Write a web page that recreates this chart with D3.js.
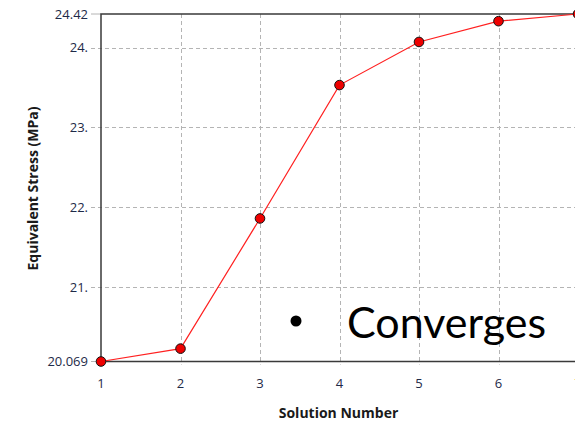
<!DOCTYPE html>
<html>
<head>
<meta charset="utf-8">
<script src="https://cdn.jsdelivr.net/npm/d3@7/dist/d3.min.js"></script>
<style>
  html, body { margin: 0; padding: 0; background: #fff; }
  svg { display: block; }
</style>
</head>
<body>
<svg id="chart" width="575" height="421"></svg>
<script>
// Solution convergence: equivalent stress per solution number
const solutions = [1, 2, 3, 4, 5, 6, 7];
const stress = [20.069, 20.23, 21.86, 23.53, 24.07, 24.33, 24.42];
const yTicks = [24.42, 24, 23, 22, 21, 20.069];
const yTickLabels = ["24.42", "24.", "23.", "22.", "21.", "20.069"];
const xTicks = [1, 2, 3, 4, 5, 6, 7];
const xTickLabels = ["1", "2", "3", "4", "5", "6", "7"];

const svg = d3.select("#chart");
const plotLeft = 101, plotTop = 14, plotBottom = 361.5, plotRight = 578;

const x = d3.scaleLinear().domain([1, 7]).range([plotLeft, plotRight]);
const y = d3.scaleLinear().domain([20.069, 24.42]).range([plotBottom, plotTop]);

const labelFont = "'Open Sans', 'Noto Sans', sans-serif";
const labelColor = "#1e2a48";

// dashed grid
const grid = svg.append("g").attr("stroke", "#b4b4b4").attr("stroke-width", 1)
  .attr("stroke-dasharray", "4,3");
grid.selectAll("line.h").data([24, 23, 22, 21]).join("line")
  .attr("x1", plotLeft - 10).attr("x2", 575)
  .attr("y1", d => Math.round(y(d)) + 0.5).attr("y2", d => Math.round(y(d)) + 0.5);
grid.selectAll("line.v").data([2, 3, 4, 5, 6]).join("line")
  .attr("x1", d => Math.round(x(d)) + 0.5).attr("x2", d => Math.round(x(d)) + 0.5)
  .attr("y1", plotTop).attr("y2", plotBottom + 3);

// extreme tick marks
svg.append("g").attr("stroke", "#b4b4b4").attr("stroke-width", 1)
  .selectAll("line").data([24.42, 20.069]).join("line")
  .attr("x1", plotLeft - 10).attr("x2", plotLeft)
  .attr("y1", d => y(d)).attr("y2", d => y(d));

// frame
svg.append("path")
  .attr("d", `M575,${plotTop}H${plotLeft}V${plotBottom}H575`)
  .attr("fill", "none").attr("stroke", "#3a3a3a").attr("stroke-width", 1.5);

// y tick labels
svg.append("g").selectAll("text").data(yTicks).join("text")
  .attr("x", 88).attr("y", d => y(d) + 4.5)
  .attr("text-anchor", "end")
  .attr("font-family", labelFont).attr("font-size", 13).attr("fill", labelColor)
  .text((d, i) => yTickLabels[i]);

// x tick labels (the last one sits at the right edge)
svg.append("g").selectAll("text").data(xTicks).join("text")
  .attr("x", d => x(d)).attr("y", 388)
  .attr("text-anchor", "middle")
  .attr("font-family", labelFont).attr("font-size", 13)
  .attr("fill", (d, i) => i === xTicks.length - 1 ? "#e0a040" : labelColor)
  .text((d, i) => xTickLabels[i]);

// axis titles
svg.append("text")
  .attr("x", 338.5).attr("y", 418)
  .attr("text-anchor", "middle")
  .attr("font-family", labelFont).attr("font-weight", "bold").attr("font-size", 14)
  .attr("fill", "#1a1a1a")
  .text("Solution Number");

svg.append("text")
  .attr("transform", "translate(38,188.5) rotate(-90)")
  .attr("text-anchor", "middle")
  .attr("font-family", labelFont).attr("font-weight", "bold").attr("font-size", 14)
  .attr("fill", "#1a1a1a")
  .text("Equivalent Stress  (MPa)");

// series line and markers
const line = d3.line().x((d, i) => x(solutions[i])).y(d => y(d));
svg.append("path").datum(stress)
  .attr("d", line).attr("fill", "none")
  .attr("stroke", "#ff2020").attr("stroke-width", 1.2);

svg.append("g").selectAll("circle").data(stress).join("circle")
  .attr("cx", (d, i) => x(solutions[i])).attr("cy", d => y(d))
  .attr("r", 4.8)
  .attr("fill", "#ee0000").attr("stroke", "#111").attr("stroke-width", 1);

// annotation
svg.append("circle").attr("cx", 296).attr("cy", 321).attr("r", 5.5).attr("fill", "#000");
svg.append("text")
  .attr("x", 347).attr("y", 338)
  .attr("font-family", "Lato, 'Noto Sans', sans-serif").attr("font-size", 43)
  .attr("fill", "#000")
  .text("Converges");
</script>
</body>
</html>
